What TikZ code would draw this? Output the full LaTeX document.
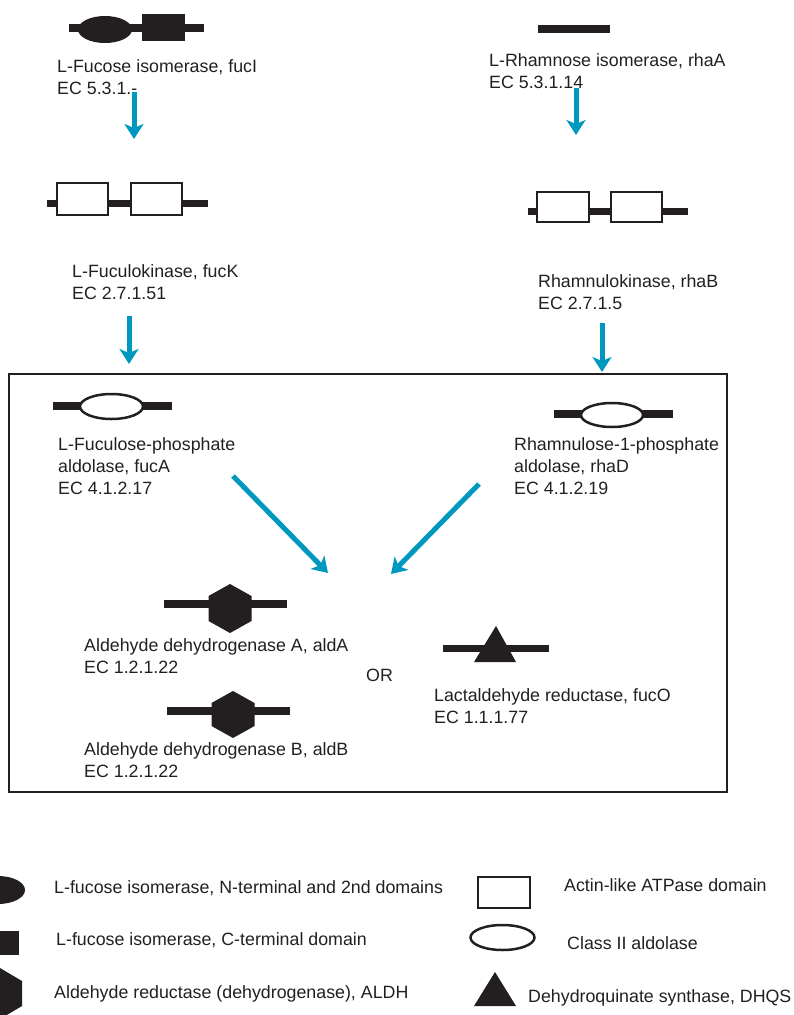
\documentclass[tikz,border=0pt]{standalone}
\usepackage{fontspec}
\setmainfont{Liberation Sans}
\usetikzlibrary{arrows.meta}
\definecolor{ink}{HTML}{231F20}
\definecolor{flowc}{RGB}{0,152,190}
\begin{document}
\begin{tikzpicture}[x=1pt,y=-1pt,
  lbl/.style={anchor=base west, inner sep=0pt, align=left, font=\fontsize{17.8}{22}\selectfont, text=ink},
  backbone/.style={ink, line width=8pt},
  thinbone/.style={ink, line width=7pt},
  dom/.style={draw=ink, fill=white, line width=2.5pt},
  flow/.style={flowc, line width=5pt, -{Stealth[length=15pt,width=19pt,inset=4pt]}}]
\useasboundingbox (0,0) rectangle (793,1015);
\clip (0,0) rectangle (793,1015);
% (multi-line labels: anchor is the baseline of the last line)

% ---- fucI
\draw[backbone] (69,28) -- (204,28);
\fill[ink] (105,29.5) ellipse [x radius=27, y radius=13.5];
\fill[ink] (142,14) rectangle (185,41);
\node[lbl] (fucI) at (57,94) {L-Fucose isomerase, fucI\\EC 5.3.1.-};
\coordinate (a1s) at (134,92); \coordinate (a1e) at (134,139);
\draw[flow] (a1s) -- (a1e);

% ---- fucK
\draw[thinbone] (47,203) -- (208,203);
\draw[dom] (57,183) rectangle (108,215);
\draw[dom] (131,183) rectangle (182,215);
\node[lbl] (fucK) at (72,299) {L-Fuculokinase, fucK\\EC 2.7.1.51};
\coordinate (a2s) at (129,316); \coordinate (a2e) at (129,364);
\draw[flow] (a2s) -- (a2e);

% ---- rhaA
\draw[backbone] (538,29) -- (610,29);
\node[lbl] (rhaA) at (489,88) {L-Rhamnose isomerase, rhaA\\EC 5.3.1.14};
\coordinate (a3s) at (576,88); \coordinate (a3e) at (576,135);
\draw[flow] (a3s) -- (a3e);

% ---- rhaB
\draw[thinbone] (528,211) -- (688,211);
\draw[dom] (537,192) rectangle (589,222);
\draw[dom] (611,192) rectangle (662,222);
\node[lbl] (rhaB) at (538,309) {Rhamnulokinase, rhaB\\EC 2.7.1.5};
\coordinate (a4s) at (602,323); \coordinate (a4e) at (602,372);
\draw[flow] (a4s) -- (a4e);

% ---- frame
\draw[ink, line width=2pt] (9,374) rectangle (727,792);

% ---- fucA
\draw[backbone] (53,406) -- (172,406);
\draw[dom] (111.5,406.5) ellipse [x radius=31.5, y radius=12.5];
\node[lbl] (fucA) at (58,494) {L-Fuculose-phosphate\\aldolase, fucA\\EC 4.1.2.17};

% ---- rhaD
\draw[backbone] (554,414) -- (673,414);
\draw[dom] (612,415) ellipse [x radius=31, y radius=12];
\node[lbl] (rhaD) at (514,494) {Rhamnulose-1-phosphate\\aldolase, rhaD\\EC 4.1.2.19};

% ---- converging arrows
\coordinate (a5s) at (233,476); \coordinate (a5e) at (328,573);
\draw[flow] (a5s) -- (a5e);
\coordinate (a6s) at (479,484); \coordinate (a6e) at (391,574);
\draw[flow] (a6s) -- (a6e);

% ---- aldA
\draw[backbone] (164,604) -- (287,604);
\fill[ink] (230,584) -- (251.5,596) -- (251.5,621) -- (230,633) -- (208.5,621) -- (208.5,596) -- cycle;
\node[lbl] (aldA) at (84,673) {Aldehyde dehydrogenase A, aldA\\EC 1.2.1.22};

% ---- aldB
\draw[backbone] (167,711) -- (290,711);
\fill[ink] (233,691) -- (254.5,703) -- (254.5,726) -- (233,738) -- (211.5,726) -- (211.5,703) -- cycle;
\node[lbl] (aldB) at (84,777) {Aldehyde dehydrogenase B, aldB\\EC 1.2.1.22};

\node[lbl] (or) at (366,681) {OR};

% ---- fucO
\draw[thinbone] (443,648) -- (549,648);
\fill[ink] (496,626) -- (516,662) -- (474,662) -- cycle;
\node[lbl] (fucO) at (434,723) {Lactaldehyde reductase, fucO\\EC 1.1.1.77};

% ---- legend
\fill[ink] (-2,890) ellipse [x radius=27, y radius=14];
\node[lbl] (lg1) at (54,893) {L-fucose isomerase, N-terminal and 2nd domains};
\fill[ink] (-24,931) rectangle (19,955);
\node[lbl] (lg2) at (56,945) {L-fucose isomerase, C-terminal domain};
\fill[ink] (0,968) -- (22,981) -- (22,1006) -- (0,1019) -- (-22,1006) -- (-22,981) -- cycle;
\node[lbl] (lg3) at (54,998) {Aldehyde reductase (dehydrogenase), ALDH};

\draw[dom] (478,877) rectangle (530,908);
\node[lbl] (lg4) at (564,891) {Actin-like ATPase domain};
\draw[dom] (502.5,937.5) ellipse [x radius=32, y radius=12.5];
\node[lbl] (lg5) at (567,949) {Class II aldolase};
\fill[ink] (495,972) -- (516,1006) -- (474,1006) -- cycle;
\node[lbl] (lg6) at (528,1002) {Dehydroquinate synthase, DHQS};
\end{tikzpicture}
\end{document}
